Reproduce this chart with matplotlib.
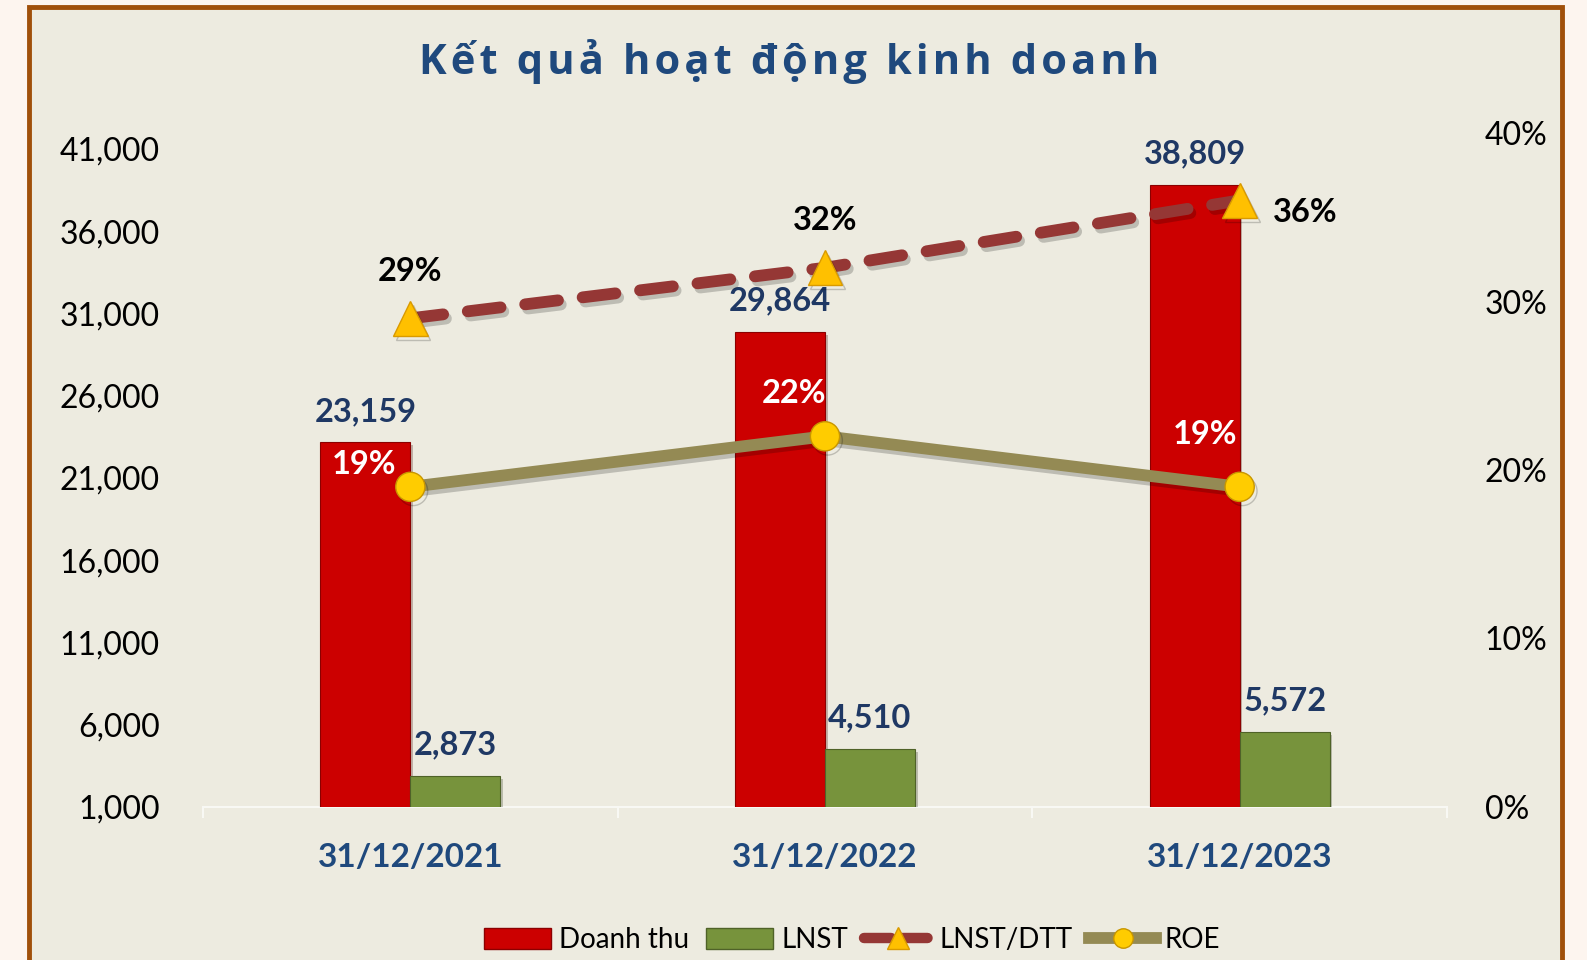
import matplotlib
matplotlib.use("Agg")
import matplotlib.pyplot as plt
import matplotlib.patheffects as pe
from matplotlib.patches import Patch, Rectangle
from matplotlib.lines import Line2D
import numpy as np

# data
categories = ["31/12/2021", "31/12/2022", "31/12/2023"]
doanh_thu = [23159, 29864, 38809]
lnst = [2873, 4510, 5572]
lnst_dtt = [0.29, 0.32, 0.36]
roe = [0.19, 0.22, 0.19]

left_ticks = list(range(1000, 41001, 5000))
right_ticks = [0.0, 0.1, 0.2, 0.3, 0.4]

# colours
RED = "#CC0000"; GREEN = "#77933C"; DASH = "#953735"; OLIVE = "#948A54"
GOLD = "#FFC000"; NAVY = "#1F3864"; TITLE = "#1F497D"
BG = "#EDEBE0"; OUTER = "#FDF5EF"; BORDER = "#A0500A"

FONT = ["Lato", "Open Sans", "DejaVu Sans"]
plt.rcParams["font.family"] = FONT

W, H = 1587, 960
fig = plt.figure(figsize=(W / 100, H / 100), dpi=100, facecolor=OUTER)

# panel with brown frame (bottom edge runs off the picture)
bg = fig.add_axes([0, 0, 1, 1], zorder=-5)
bg.set_xlim(0, W); bg.set_ylim(H, 0); bg.axis("off")
bg.add_patch(Rectangle((29, 7), 1562 - 29, H + 20, facecolor=BG,
                       edgecolor=BORDER, linewidth=3.5))

ax = fig.add_axes([203 / W, 153 / H, 1244 / W, 658 / H])
ax.set_facecolor("none")
# secondary axis: its 40% sits a little higher than 41,000
ax2 = fig.add_axes([203 / W, 153 / H, 1244 / W, 674 / H], zorder=2)
ax2.set_facecolor("none")
ax2.yaxis.tick_right()
ax2.set_xticks([])

x = np.arange(len(categories))
bw = 0.217
shadow = [pe.SimplePatchShadow(offset=(2, -2), alpha=0.25), pe.Normal()]
ax.bar(x - bw / 2, doanh_thu, bw, color=RED, edgecolor="#8B0000", linewidth=0.8,
       zorder=3, path_effects=shadow)
ax.bar(x + bw / 2, lnst, bw, color=GREEN, edgecolor="#4F6228", linewidth=0.8,
       zorder=3, path_effects=shadow)

ax.set_ylim(1000, 41000)
ax.set_xlim(-0.5, 2.5)
ax.set_yticks(left_ticks)
ax.set_yticklabels([f"{v:,}" for v in left_ticks])
ax.tick_params(axis="y", length=0, pad=31, labelsize=23)
ax.set_xticks(x)
ax.set_xticklabels(categories, fontsize=24, fontweight="bold", color=TITLE)
ax.tick_params(axis="x", length=0, pad=26)
ax.set_xticks([-0.5, 0.5, 1.5, 2.5], minor=True)
ax.tick_params(axis="x", which="minor", length=8, color="#F8F8F4", width=1.5)
for s in ["left", "right", "top"]:
    ax.spines[s].set_visible(False)
ax.spines["bottom"].set_color("#F8F8F4")
ax.spines["bottom"].set_linewidth(1.5)

for s in ax2.spines.values():
    s.set_visible(False)
ax2.set_xlim(-0.5, 2.5)
ax2.set_ylim(0, 0.40)
ax2.set_yticks(right_ticks)
ax2.set_yticklabels([f"{int(round(v * 100))}%" for v in right_ticks])
ax2.tick_params(axis="y", length=0, pad=27, labelsize=23)

lshadow = [pe.SimpleLineShadow(offset=(2, -3), alpha=0.2), pe.Normal()]
ax2.plot(x, lnst_dtt, color=DASH, linewidth=8.5, dashes=(2.8, 2.1),
         dash_capstyle="round", marker="^", markersize=25, markerfacecolor=GOLD,
         markeredgecolor="#D99A00", markeredgewidth=1, zorder=4, path_effects=lshadow)
ax2.plot(x, roe, color=OLIVE, linewidth=8.5, marker="o", markersize=21,
         markerfacecolor="#FFCC00", markeredgecolor="#C89600", markeredgewidth=1,
         zorder=5, path_effects=lshadow)

# data labels
for i, v in enumerate(doanh_thu):
    ax.annotate(f"{v:,}", (x[i] - bw / 2, v), xytext=(0, 12), textcoords="offset points",
                ha="center", va="bottom", fontsize=23.5, fontweight="bold", color=NAVY, zorder=6)
for i, v in enumerate(lnst):
    ax.annotate(f"{v:,}", (x[i] + bw / 2, v), xytext=(0, 12), textcoords="offset points",
                ha="center", va="bottom", fontsize=23.5, fontweight="bold", color=NAVY, zorder=6)

roe_off = [(-33, 16), (-22, 31), (-25, 38)]
for i, v in enumerate(roe):
    ax2.annotate(f"{round(v * 100)}%", (x[i], v), xytext=roe_off[i], textcoords="offset points",
                 ha="center", va="center", fontsize=23.5, fontweight="bold", color="white", zorder=7)
dtt_off = [(0, 34), (0, 34), (47, -9)]
for i, v in enumerate(lnst_dtt):
    ax2.annotate(f"{round(v * 100)}%", (x[i], v), xytext=dtt_off[i], textcoords="offset points",
                 ha="center", va="center", fontsize=23.5, fontweight="bold", color="black", zorder=7)

title = "\u200a".join("Kết quả hoạt động kinh doanh")
fig.text(0.497, 1 - 62 / H, title, ha="center", va="center",
         fontsize=30, fontweight="bold", color=TITLE, family=["Open Sans", "DejaVu Sans"])

handles = [
    Patch(facecolor=RED, edgecolor="#8B0000"),
    Patch(facecolor=GREEN, edgecolor="#4F6228"),
    Line2D([], [], color=DASH, linewidth=7.5, dashes=(2.6, 0.9), dash_capstyle="round",
           marker="^", markersize=16, markerfacecolor=GOLD, markeredgecolor="#D99A00"),
    Line2D([], [], color=OLIVE, linewidth=8.5, marker="o", markersize=14,
           markerfacecolor="#FFCC00", markeredgecolor="#C89600"),
]
fig.legend(handles, ["Doanh thu", "LNST", "LNST/DTT", "ROE"], loc="center",
           bbox_to_anchor=(852 / W, 20 / H), ncol=4, frameon=False, fontsize=20,
           handlelength=2.4, handleheight=0.8, handletextpad=0.3, columnspacing=0.6)

fig.savefig("out.png", dpi=100, facecolor=OUTER)
